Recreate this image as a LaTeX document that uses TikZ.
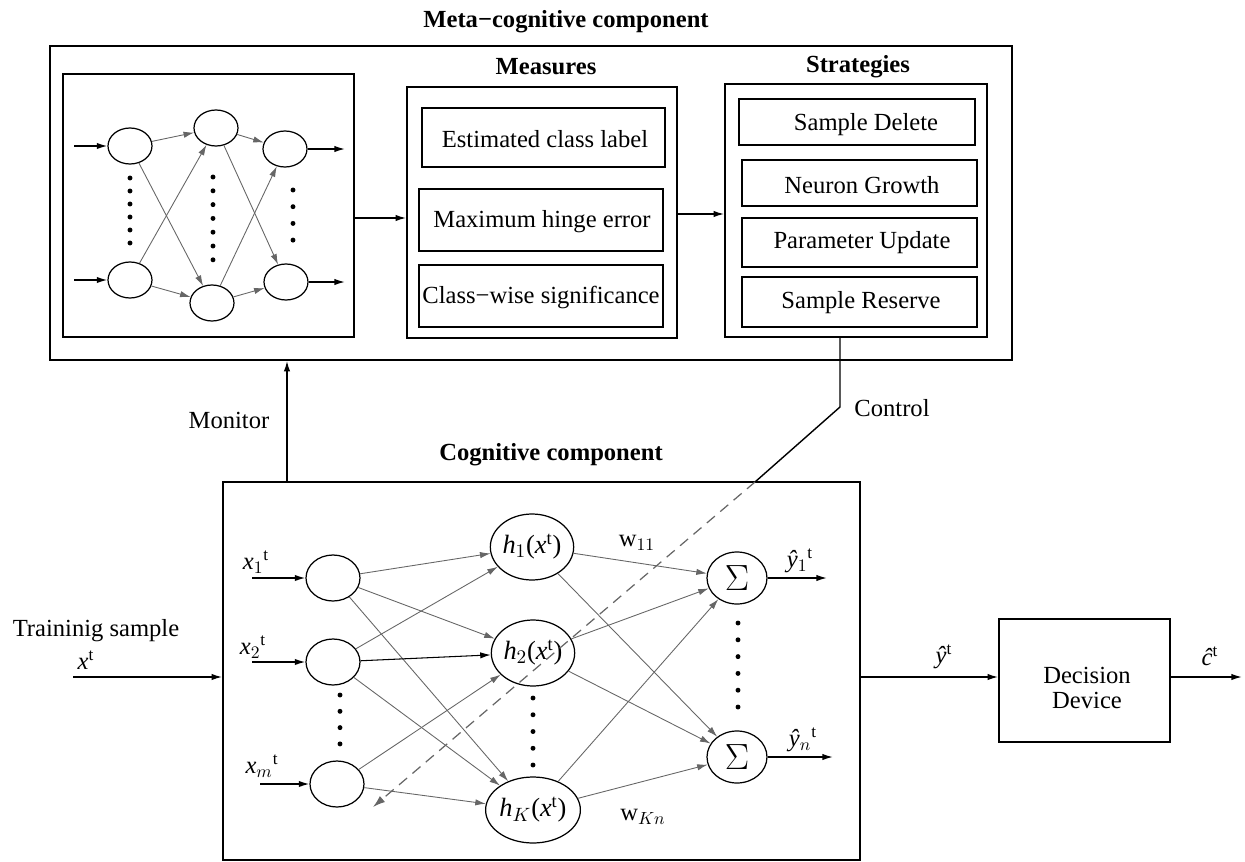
\documentclass[tikz,border=0pt]{standalone}
\usepackage{fontspec}
\setmainfont{Liberation Serif}
\usetikzlibrary{arrows.meta,shapes.geometric,fit}
\begin{document}
\begin{tikzpicture}[x=0.02cm,y=-0.02cm,
  every node/.style={font=\fontsize{14}{16}\selectfont},
  lbl/.style={inner sep=1pt},
  box/.style={draw, line width=0.9pt, inner sep=0pt},
  arr/.style={-{Latex[length=6pt,width=3.6pt]}, line width=0.8pt},
  garr/.style={-{Latex[length=6pt,width=3.6pt]}, draw=black!60, line width=0.5pt},
  nn/.style={ellipse, draw, line width=0.7pt, minimum width=0.88cm, minimum height=0.72cm, inner sep=0pt},
  cn/.style={ellipse, draw, line width=0.7pt, minimum width=1.08cm, minimum height=0.92cm, inner sep=0pt},
  hn/.style={ellipse, draw, line width=0.7pt, minimum width=1.52cm, minimum height=1.32cm, inner sep=0pt, font=\fontsize{15}{17}\selectfont},
  sn/.style={ellipse, draw, line width=0.7pt, minimum width=1.2cm, minimum height=1.04cm, inner sep=0pt, font=\fontsize{22}{24}\selectfont},
  ttl/.style={font=\fontsize{14}{16}\selectfont\bfseries},
  ctl/.style={dash pattern=on 6pt off 4pt, draw=black!60, line width=0.7pt, -{Latex[length=7pt,width=4.5pt]}}
]
\useasboundingbox (0,0) rectangle (1245,862);

% ---------- Meta-cognitive component ----------
\node[ttl] (metatitle) at (566,22) {Meta−cognitive component};
\node[box, fit={(50,46)(1012,360)}] (meta) {};

% neural net box
\node[box, fit={(63,74)(354,337)}] (nnbox) {};
\node[nn] (LT) at (130,146) {};
\node[nn] (LB) at (130,280) {};
\node[nn] (MT) at (216,128) {};
\node[nn] (MB) at (212,303) {};
\node[nn] (RT) at (285,149) {};
\node[nn] (RB) at (286,282) {};
\coordinate (iLT) at (74,146);
\coordinate (iLB) at (74,280);
\coordinate (oRT) at (345,149);
\coordinate (oRB) at (345,282);
\draw[arr] (iLT) -- (LT);
\draw[arr] (iLB) -- (LB);
\draw[arr] (RT) -- (oRT);
\draw[arr] (RB) -- (oRB);
\foreach \a in {LT,LB} \foreach \b in {MT,MB} \draw[garr] (\a) -- (\b);
\foreach \a in {MT,MB} \foreach \b in {RT,RB} \draw[garr] (\a) -- (\b);
\foreach \i in {0,...,5} \fill (130,{178+\i*13}) circle (1.4pt);
\foreach \i in {0,...,6} \fill (213,{177+\i*13.8}) circle (1.4pt);
\foreach \i in {0,...,3} \fill (293,{190+\i*16.7}) circle (1.4pt);

% measures
\node[ttl] (meastitle) at (546,67) {Measures};
\node[box, fit={(407,87)(677,338)}] (meas) {};
\node[box, fit={(422,108)(665,167)}] (m1) {};
\node[box, fit={(419,189)(663,251)}] (m2) {};
\node[box, fit={(419,265)(663,327)}] (m3) {};
\node (m1t) at (545,139) {Estimated class label};
\node (m2t) at (542,222) {Maximum hinge error};
\node (m3t) at (541,297) {Class−wise significance};

% strategies
\node[ttl] (strattitle) at (858,67) {Strategies};
\node[box, fit={(725,84)(987,337)}] (strat) {};
\node[box, fit={(739,99)(975,145)}] (s1) {};
\node[box, fit={(742,160)(977,206)}] (s2) {};
\node[box, fit={(742,218)(977,267)}] (s3) {};
\node[box, fit={(742,277)(977,327)}] (s4) {};
\node (s1t) at (866,125) {Sample Delete};
\node (s2t) at (862,185) {Neuron Growth};
\node (s3t) at (862,243) {Parameter Update};
\node (s4t) at (861,303) {Sample Reserve};

\coordinate (a1) at (0,218);
\coordinate (a2) at (0,214);
\draw[arr] (nnbox.east |- a1) -- (meas.west |- a1);
\draw[arr] (meas.east |- a2) -- (strat.west |- a2);

% ---------- Cognitive component ----------
\node[ttl] (cogtitle) at (551,455) {Cognitive component};
\node[box, fit={(223,482)(860,860)}] (cog) {};

\node (montext) at (229,420) {Monitor};
\coordinate (mon) at (287,0);
\draw[arr] (cog.north -| mon) -- (meta.south -| mon);

\node (ctltext) at (892,408) {Control};
\coordinate (cbend) at (840,407);
\coordinate (cin) at (755,482);
\coordinate (cend) at (373,807);

% input layer
\node[cn] (X1) at (333,578) {};
\node[cn] (X2) at (333,662) {};
\node[cn] (XM) at (337,784) {};
\coordinate (ix1) at (252,578);
\coordinate (ix2) at (252,662);
\coordinate (ixm) at (260,784);
\draw[arr] (ix1) -- (X1);
\draw[arr] (ix2) -- (X2);
\draw[arr] (ixm) -- (XM);
\node[lbl] (lx1) at (256,562) {\textit{x}$_1{}^{\mathrm{t}}$};
\node[lbl] (lx2) at (253,647) {\textit{x}$_2{}^{\mathrm{t}}$};
\node[lbl] (lxm) at (262,766) {\textit{x}$_m{}^{\mathrm{t}}$};
\foreach \i in {0,...,3} \fill (340,{695+\i*16.3}) circle (1.4pt);

% hidden layer
\node[hn] (H1) at (532,547) {\textit{h}$_1$(\textit{x}$^{\mathrm{t}}$)};
\node[hn] (H2) at (533,653) {\textit{h}$_2$(\textit{x}$^{\mathrm{t}}$)};
\node[hn] (HK) at (533,810) {\textit{h}$_K$(\textit{x}$^{\mathrm{t}}$)};
\foreach \i in {0,...,4} \fill (533,{698+\i*16.75}) circle (1.4pt);

\draw[garr] (X1) -- (H1);
\draw[garr] (X1) -- (H2);
\draw[garr] (X1) -- (HK);
\draw[garr] (X2) -- (H1);
\draw[arr, line width=0.6pt] (X2) -- (H2);
\draw[garr] (X2) -- (HK);
\draw[garr] (XM) -- (H2);
\draw[garr] (XM) -- (HK);

% output layer
\node[sn] (S1) at (737,578) {$\Sigma$};
\node[sn] (SN) at (737,757) {$\Sigma$};
\foreach \i in {0,...,5} \fill (738,{623+\i*16.8}) circle (1.4pt);
\foreach \a in {H1,H2,HK} \foreach \b in {S1,SN} \draw[garr] (\a) -- (\b);
\coordinate (oS1) at (827,578);
\coordinate (oSN) at (833,757);
\draw[arr] (S1) -- (oS1);
\draw[arr] (SN) -- (oSN);
\node[lbl] (ly1) at (800,561) {\textit{ŷ}$_1{}^{\mathrm{t}}$};
\node[lbl] (lyn) at (803,740) {\textit{ŷ}$_n{}^{\mathrm{t}}$};
\node[lbl] (lw11) at (637,543) {w$_{11}$};
\node[lbl] (lwkn) at (643,817) {w$_{Kn}$};

% control connector
\draw[line width=0.8pt] (strat.south -| cbend) -- (cbend) -- (cin);
\draw[ctl] (cin) -- (cend);

% training sample
\node (trtext) at (96,631) {Traininig sample};
\node[lbl] (xt) at (86,660) {\textit{x}$^{\mathrm{t}}$};
\coordinate (tr) at (73,677);
\draw[arr] (tr) -- (cog.west |- tr);

% decision device
\node[box, fit={(999,619)(1170,742)}] (dd) {};
\node[align=center, font=\fontsize{14}{14}\selectfont] (ddt) at (1087,688) {Decision\\Device};
\coordinate (b) at (0,677);
\coordinate (out) at (1242,677);
\draw[arr] (cog.east |- b) -- (dd.west |- b);
\draw[arr] (dd.east |- b) -- (out);
\node[lbl] (lyt) at (944,657) {\textit{ŷ}$^{\mathrm{t}}$};
\node[lbl] (lct) at (1210,656) {\textit{ĉ}$^{\mathrm{t}}$};
\end{tikzpicture}
\end{document}
